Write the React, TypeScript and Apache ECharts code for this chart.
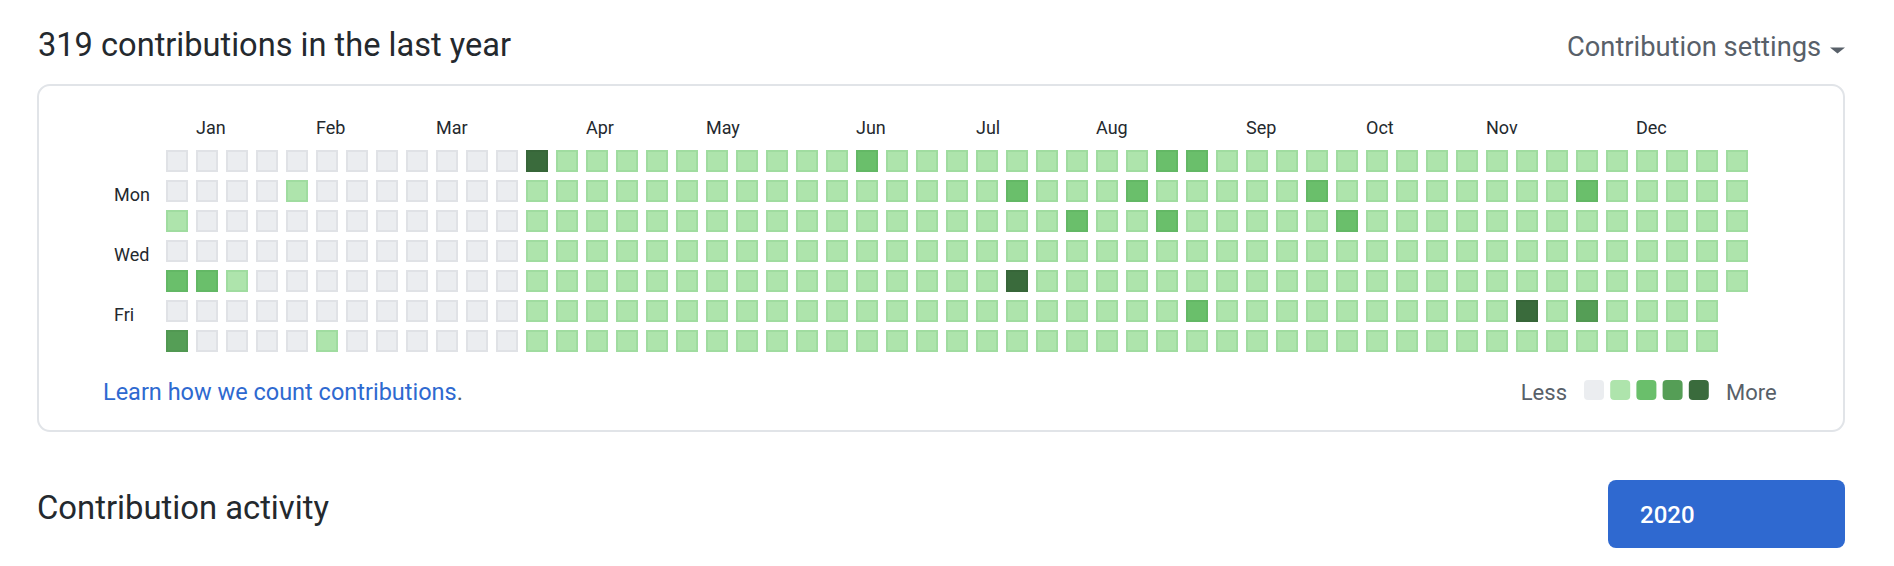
import React, { useEffect, useRef } from "react";
import * as echarts from "echarts";

// ---- data ----
const weekdays = ["Sun", "Mon", "Tue", "Wed", "Thu", "Fri", "Sat"];
const dayLabels = ["", "Mon", "", "Wed", "", "Fri", ""];
const monthNames = ["Jan", "Feb", "Mar", "Apr", "May", "Jun", "Jul", "Aug", "Sep", "Oct", "Nov", "Dec"];
const monthStartWeeks = [1, 5, 9, 14, 18, 23, 27, 31, 36, 40, 44, 49];

// contribution level (0-4) per week column, one array per weekday
const sunLevels = [0,0,0,0,0,0,0,0,0,0,0,0,4,1,1,1,1,1,1,1,1,1,1,2,1,1,1,1,1,1,1,1,1,2,2,1,1,1,1,1,1,1,1,1,1,1,1,1,1,1,1,1,1];
const monLevels = [0,0,0,0,1,0,0,0,0,0,0,0,1,1,1,1,1,1,1,1,1,1,1,1,1,1,1,1,2,1,1,1,2,1,1,1,1,1,2,1,1,1,1,1,1,1,1,2,1,1,1,1,1];
const tueLevels = [1,0,0,0,0,0,0,0,0,0,0,0,1,1,1,1,1,1,1,1,1,1,1,1,1,1,1,1,1,1,2,1,1,2,1,1,1,1,1,2,1,1,1,1,1,1,1,1,1,1,1,1,1];
const wedLevels = [0,0,0,0,0,0,0,0,0,0,0,0,1,1,1,1,1,1,1,1,1,1,1,1,1,1,1,1,1,1,1,1,1,1,1,1,1,1,1,1,1,1,1,1,1,1,1,1,1,1,1,1,1];
const thuLevels = [2,2,1,0,0,0,0,0,0,0,0,0,1,1,1,1,1,1,1,1,1,1,1,1,1,1,1,1,4,1,1,1,1,1,1,1,1,1,1,1,1,1,1,1,1,1,1,1,1,1,1,1,1];
const friLevels = [0,0,0,0,0,0,0,0,0,0,0,0,1,1,1,1,1,1,1,1,1,1,1,1,1,1,1,1,1,1,1,1,1,1,2,1,1,1,1,1,1,1,1,1,1,4,1,3,1,1,1,1];
const satLevels = [3,0,0,0,0,1,0,0,0,0,0,0,1,1,1,1,1,1,1,1,1,1,1,1,1,1,1,1,1,1,1,1,1,1,1,1,1,1,1,1,1,1,1,1,1,1,1,1,1,1,1,1];
const levelsByDay = [sunLevels, monLevels, tueLevels, wedLevels, thuLevels, friLevels, satLevels];

const levels = [0, 1, 2, 3, 4];
const levelFill = ["#ebedf0", "#aee4ac", "#6abf6b", "#559e56", "#3a6b3c"];
const levelBorder = ["#e0e2e6", "#a0dca0", "#63b865", "#519852", "#376639"];

const titleText = "319 contributions in the last year";
const FONT = "Roboto, 'Noto Sans', sans-serif";
const DARK = "#24292e";
const GRAY = "#586069";
const LABEL_SHIFT = 11 / 30; // month label starts at the cell's left edge

export default function App() {
  const ref = useRef<HTMLDivElement>(null);

  useEffect(() => {
    if (!ref.current) return;
    const chart = echarts.init(ref.current, undefined, { renderer: "svg" });

    const series = levels.map((lv) => {
      const data: number[][] = [];
      levelsByDay.forEach((row, d) => {
        row.forEach((v, w) => {
          if (v === lv) data.push([w, d, v]);
        });
      });
      return {
        type: "scatter",
        name: "level" + lv,
        data,
        symbol: "rect",
        symbolSize: 20,
        silent: true,
        itemStyle: { color: levelFill[lv], borderColor: levelBorder[lv], borderWidth: 2, opacity: 1 },
        emphasis: { disabled: true },
      };
    });

    const txt = (
      text: string,
      x: number,
      y: number,
      size: number,
      color: string,
      align = "left",
      weight: any = "normal"
    ) => ({
      type: "text",
      x,
      y,
      silent: true,
      style: {
        text,
        fill: color,
        fontSize: size,
        fontFamily: FONT,
        fontWeight: weight,
        align,
        verticalAlign: "middle",
        textAlign: align,
        textVerticalAlign: "middle",
      },
    });

    const legendSquares = levels.map((lv, i) => ({
      type: "rect",
      silent: true,
      shape: { x: 1584 + i * 26.2, y: 380, width: 20, height: 20, r: 4 },
      style: { fill: levelFill[lv] },
    }));

    chart.setOption({
      animation: false,
      backgroundColor: "#ffffff",
      grid: { left: 162, top: 146, width: 1590, height: 210, containLabel: false },
      xAxis: {
        type: "value",
        position: "top",
        min: -0.5,
        max: 52.5,
        axisLine: { show: false },
        axisTick: { show: false },
        splitLine: { show: false },
        axisLabel: {
          customValues: monthStartWeeks.map((w) => w - LABEL_SHIFT),
          formatter: (v: number) => {
            const i = monthStartWeeks.indexOf(Math.round(v + LABEL_SHIFT));
            return i >= 0 ? monthNames[i] : "";
          },
          align: "left",
          verticalAlign: "middle",
          margin: 19,
          fontSize: 18,
          fontFamily: FONT,
          color: DARK,
        },
      },
      yAxis: {
        type: "category",
        data: weekdays,
        inverse: true,
        axisLine: { show: false },
        axisTick: { show: false },
        splitLine: { show: false },
        axisLabel: {
          interval: 0,
          formatter: (_v: string, i: number) => dayLabels[i],
          align: "left",
          verticalAlign: "top",
          lineHeight: 6,
          margin: 48,
          fontSize: 18,
          fontFamily: FONT,
          color: DARK,
        },
      },
      series,
      graphic: [
        {
          type: "rect",
          silent: true,
          shape: { x: 38, y: 85, width: 1806, height: 346, r: 12 },
          style: { fill: "none", stroke: "#e1e4e8", lineWidth: 2 },
        },
        txt(titleText, 38, 45, 32.6, DARK),
        txt("Contribution settings", 1567, 46.8, 27.3, GRAY),
        {
          type: "polygon",
          silent: true,
          shape: { points: [[1830, 47.5], [1845, 47.5], [1837.5, 53.5]] },
          style: { fill: GRAY },
        },
        {
          type: "text",
          x: 103,
          y: 392,
          silent: true,
          style: {
            text: "{a|Learn how we count contributions}{b|.}",
            fontSize: 23.5,
            fontFamily: FONT,
            verticalAlign: "middle",
            textVerticalAlign: "middle",
            rich: {
              a: { fill: "#2e69d0", color: "#2e69d0", fontSize: 23.5, fontFamily: FONT },
              b: { fill: GRAY, color: GRAY, fontSize: 23.5, fontFamily: FONT },
            },
          },
        },
        txt("Less", 1567, 392, 22, GRAY, "right"),
        ...legendSquares,
        txt("More", 1726, 392, 22, GRAY),
        txt("Contribution activity", 37, 507.5, 32.8, DARK),
        {
          type: "rect",
          silent: true,
          shape: { x: 1608, y: 480, width: 237, height: 68, r: 8 },
          style: { fill: "#2f69d0" },
        },
        txt("2020", 1640, 515, 24, "#ffffff", "left", 500),
      ],
    });

    return () => chart.dispose();
  }, []);

  return (
    <div
      ref={ref}
      style={{ position: "absolute", left: 0, top: 0, width: 1894, height: 566, background: "#fff" }}
    />
  );
}
